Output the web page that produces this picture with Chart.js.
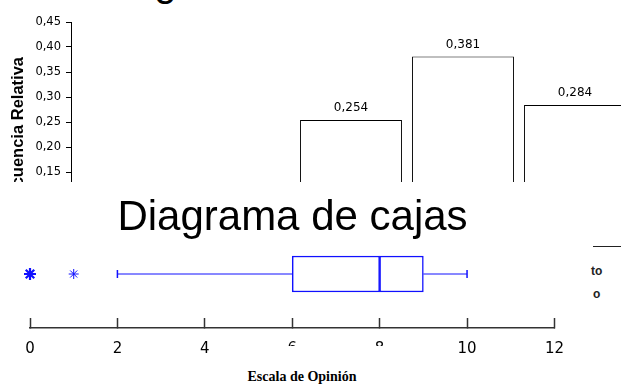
<!DOCTYPE html>
<html>
<head>
<meta charset="utf-8">
<script src="https://cdn.jsdelivr.net/npm/chart.js@4.4.0/dist/chart.umd.min.js"></script>
<style>
  html, body { margin: 0; padding: 0; background: #fff; }
  #page { position: relative; width: 621px; height: 385px; overflow: hidden; background: #fff; }
  #histWrap { position: absolute; left: 0; top: 0; width: 621px; height: 182px; overflow: hidden; }
  #histWrap canvas { position: absolute; left: 0; top: 0; }
  #histTitle { position: absolute; left: 63px; top: -38px; font: 40px "Liberation Sans", Arial, sans-serif; line-height: 40px; white-space: nowrap; color: #000; }
  .frag { position: absolute; font: bold 12px "Liberation Sans", Arial, sans-serif; line-height: 12px; color: #222; }
  #fragLine { position: absolute; left: 593px; top: 246px; width: 28px; border-top: 1.5px solid #222; }
  #boxWrap { position: absolute; left: 0; top: 182px; width: 586px; height: 203px; background: #fff; }
  #xTitle { position: absolute; left: 214px; top: 346px; width: 176px; height: 16px; padding-top: 23px; background: #fff;
            font: bold 14px "Liberation Serif", "Times New Roman", serif; line-height: 16px; text-align: center; color: #000; }
</style>
</head>
<body>
<div id="page">
  <div id="histWrap">
    <div id="histTitle">Histograma</div>
    <canvas id="hist" width="640" height="260"></canvas>
  </div>
  <div id="fragLine"></div>
  <div class="frag" style="left:591px;top:265px;">to</div>
  <div class="frag" style="left:593px;top:288px;">o</div>
  <div id="boxWrap">
    <canvas id="box" width="586" height="203"></canvas>
  </div>
  <div id="xTitle">Escala de Opinión</div>
</div>

<script>
// Histograma: frecuencia relativa por intervalo
const histLabels = ["0 - 2", "3 - 4", "5 - 6", "7 - 8", "9 - 10"];
const histFreq = [0.025, 0.056, 0.254, 0.381, 0.284];

// Diagrama de cajas: bigote inf, Q1, mediana, Q3, bigote sup
const boxFive = [2, 6, 8, 9, 10];
const outliers = [0, 1];
const xTicks = [0, 2, 4, 6, 8, 10, 12];

const blue = "#1010ff";
const comma = v => String(v).replace(".", ",");

// etiquetas encima de cada barra
const valueLabels = {
  id: "valueLabels",
  afterDatasetsDraw(chart) {
    const ctx = chart.ctx;
    ctx.save();
    ctx.font = '12px "DejaVu Sans"';
    ctx.fillStyle = "#000";
    ctx.textAlign = "center";
    ctx.textBaseline = "bottom";
    chart.getDatasetMeta(0).data.forEach((bar, i) => {
      ctx.fillText(comma(histFreq[i].toFixed(3)), bar.x, bar.y - 6);
    });
    ctx.restore();
  }
};

new Chart(document.getElementById("hist"), {
  type: "bar",
  data: {
    labels: histLabels,
    datasets: [{
      label: "Frecuencia Relativa",
      data: histFreq,
      backgroundColor: "#fff",
      borderColor: "#000",
      borderWidth: 1,
      borderSkipped: false,
      barPercentage: 0.91,
      categoryPercentage: 1
    }]
  },
  options: {
    responsive: false,
    animation: false,
    events: [],
    layout: { padding: { left: 7, top: 22, right: 9, bottom: 13 } },
    plugins: { legend: { display: false }, tooltip: { enabled: false } },
    scales: {
      x: { display: false },
      y: {
        min: 0,
        max: 0.45,
        ticks: {
          stepSize: 0.05,
          padding: 5,
          color: "#000",
          font: { family: "DejaVu Sans", size: 11.5 },
          callback: v => comma(v.toFixed(2))
        },
        grid: { drawOnChartArea: false, tickLength: 5, color: "#000" },
        border: { color: "#000", width: 1 },
        title: {
          display: true,
          text: "Frecuencia Relativa",
          color: "#000",
          font: { family: "Liberation Sans", size: 16.5, weight: "bold" },
          padding: { top: 2, bottom: 4 }
        },
        afterFit(scale) { scale.width = 64; }
      }
    }
  },
  plugins: [valueLabels]
});

const [wLow, q1, med, q3, wHigh] = boxFive;

new Chart(document.getElementById("box"), {
  type: "bar",
  data: {
    datasets: [
      { data: [{ x: [q1, med], y: 0 }], backgroundColor: "#fff", borderColor: blue, borderWidth: 1.5,
        borderSkipped: false, barThickness: 36, grouped: false },
      { data: [{ x: [med, q3], y: 0 }], backgroundColor: "#fff", borderColor: blue, borderWidth: 1.5,
        borderSkipped: false, barThickness: 36, grouped: false },
      { type: "line", data: [{ x: wLow, y: 0 }, { x: q1, y: 0 }], borderColor: blue, borderWidth: 1,
        pointStyle: "line", pointRotation: 90, pointRadius: [4, 0], pointBorderColor: blue, pointBorderWidth: 1.5 },
      { type: "line", data: [{ x: q3, y: 0 }, { x: wHigh, y: 0 }], borderColor: blue, borderWidth: 1,
        pointStyle: "line", pointRotation: 90, pointRadius: [0, 4], pointBorderColor: blue, pointBorderWidth: 1.5 },
      { type: "line", data: outliers.map(v => ({ x: v, y: 0 })), showLine: false, clip: false,
        pointStyle: "star", pointRadius: [6, 5], pointBorderWidth: [2.2, 1], pointBorderColor: blue }
    ]
  },
  options: {
    indexAxis: "y",
    responsive: false,
    animation: false,
    events: [],
    layout: { padding: { left: 30, right: 31, top: 0, bottom: 5 } },
    plugins: {
      legend: { display: false },
      tooltip: { enabled: false },
      title: {
        display: true,
        text: "Diagrama de cajas",
        color: "#000",
        font: { family: "Liberation Sans", size: 42, weight: "normal", lineHeight: 1.2 },
        padding: { top: 11, bottom: 0.6 }
      }
    },
    scales: {
      x: {
        type: "linear",
        min: xTicks[0],
        max: xTicks[xTicks.length - 1],
        afterBuildTicks(scale) { scale.ticks = xTicks.map(v => ({ value: v })); },
        ticks: { padding: 22, color: "#000", font: { family: "DejaVu Sans", size: 15 } },
        grid: { drawOnChartArea: false, tickLength: -10, color: "#333", tickWidth: 1.5 },
        border: { color: "#333", width: 1.5 }
      },
      y: { type: "linear", min: -1.8, max: 1, offset: false, display: false }
    }
  }
});
</script>
</body>
</html>
